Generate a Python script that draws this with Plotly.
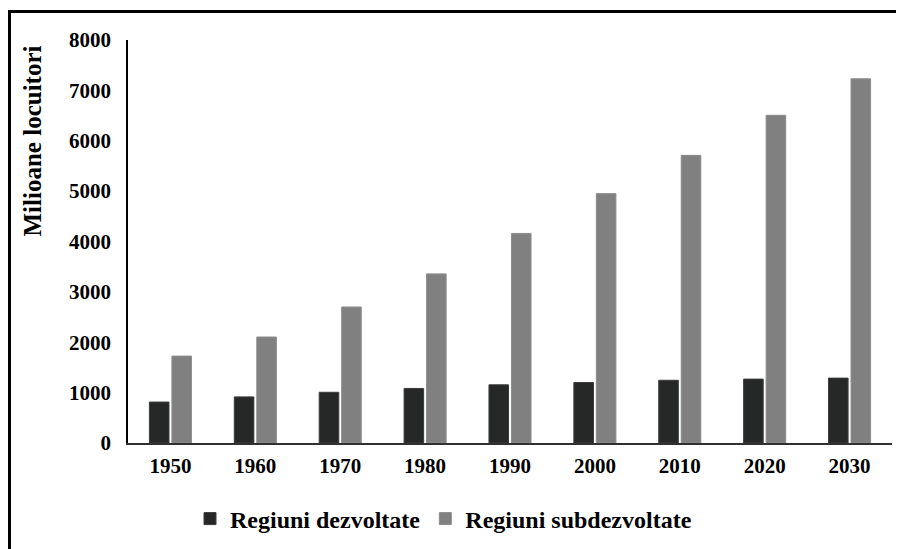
import plotly.graph_objects as go

years = ["1950", "1960", "1970", "1980", "1990", "2000", "2010", "2020", "2030"]
dezvoltate = [813, 915, 1007, 1083, 1155, 1200, 1245, 1268, 1288]
subdezvoltate = [1725, 2104, 2700, 3357, 4160, 4950, 5710, 6505, 7230]
yticks = [0, 1000, 2000, 3000, 4000, 5000, 6000, 7000, 8000]

# the page body adds an 8px margin, so screen coords = figure coords + 8
OFF = 8
W, H = 904, 549
L, R, T, B = 128 - OFF, 20, 40 - OFF, 114
pw, ph = W - L - R, H - T - B

def px(x):
    return (x - OFF - L) / pw

def py(y):
    return (H - B - (y - OFF)) / ph

FONT = "Liberation Serif"

fig = go.Figure()
fig.add_trace(go.Bar(x=years, y=dezvoltate, name="Regiuni dezvoltate",
                     marker=dict(color="#262827", line=dict(color="#3a3a3a", width=1))))
fig.add_trace(go.Bar(x=years, y=subdezvoltate, name="Regiuni subdezvoltate",
                     marker=dict(color="#808080", line=dict(color="#8c8c8c", width=1))))

fig.update_layout(
    width=W, height=H,
    margin=dict(l=L, r=R, t=T, b=B),
    paper_bgcolor="white", plot_bgcolor="white",
    barmode="group", bargap=0.47, bargroupgap=0.13,
    font=dict(family=FONT, color="black"),
    showlegend=True,
    legend=dict(orientation="h", x=px(190), xanchor="left", y=py(519), yanchor="middle",
                font=dict(family=FONT, size=24, color="black", weight="bold"),
                bgcolor="rgba(0,0,0,0)", itemwidth=30, traceorder="normal"),
    xaxis=dict(showline=True, linecolor="#303030", linewidth=2, showgrid=False,
               ticks="", tickfont=dict(family=FONT, size=21, weight="bold"),
               ticklabelstandoff=3),
    yaxis=dict(range=[0, 8000], tickvals=yticks, showline=True, linecolor="black",
               linewidth=1.5, showgrid=False, zeroline=False, ticks="",
               tickfont=dict(family=FONT, size=21, weight="bold"),
               ticklabelstandoff=11),
)

fig.add_annotation(text="Milioane locuitori", textangle=-90, xref="paper", yref="paper",
                   x=px(32), y=py(141.5), xanchor="center", yanchor="middle", showarrow=False,
                   font=dict(family=FONT, size=25, color="black", weight="bold"))

# outer frame (cut at right and bottom)
fig.add_shape(type="line", xref="paper", yref="paper", x0=px(8), x1=px(920),
              y0=py(11.5), y1=py(11.5), line=dict(color="black", width=3))
fig.add_shape(type="line", xref="paper", yref="paper", x0=px(9.5), x1=px(9.5),
              y0=py(10), y1=py(570), line=dict(color="black", width=3))

fig.write_html("out.html")
